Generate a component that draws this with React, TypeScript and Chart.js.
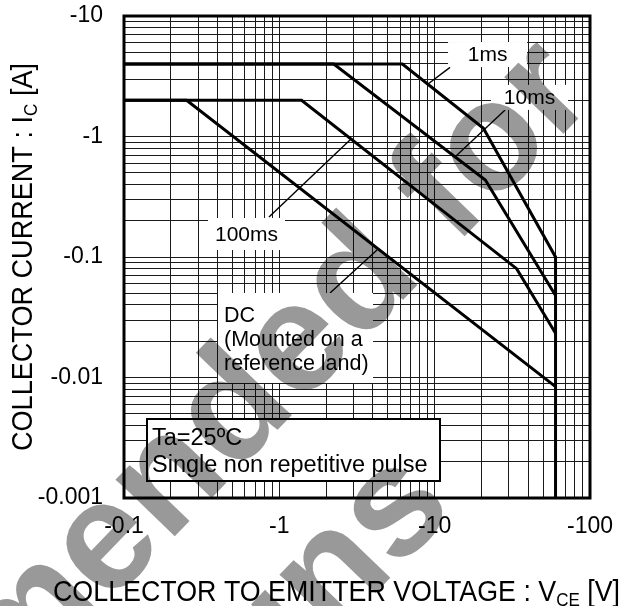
import React, { useEffect, useRef } from 'react';
import { Chart, registerables } from 'chart.js';

Chart.register(...registerables);

// ---- data ----
const voltage1ms = [0.1, 6.2, 20.6, 60, 60];
const current1ms = [4, 4, 1.17, 0.1, 0.001];
const voltage10ms = [0.1, 2.24, 21.2, 60];
const current10ms = [4, 4, 0.435, 0.048];
const voltage100ms = [0.1, 1.39, 33.7, 60];
const current100ms = [2, 2, 0.08, 0.0233];
const voltageDC = [0.1, 0.253, 60];
const currentDC = [2, 2, 0.0084];

const xTickDecades = [0.1, 1, 10, 100];
const yTickDecades = [0.001, 0.01, 0.1, 1, 10];

const curveNames = ['1ms', '10ms', '100ms', 'DC'];

// label anchors in data units (V, A)
const labelText = ['1ms', '10ms', '100ms'];
const labelCenterV = [21.9, 40.8, 0.6145];
const labelCenterI = [4.79, 2.11, 0.1552];
const leaderFromV = [12.56, 28.4, 0.858];
const leaderFromI = [3.75, 1.66, 0.2148];
const leaderToV = [9.06, 13.5, 2.893];
const leaderToI = [2.73, 0.676, 0.953];

const dcLines = ['DC', '(Mounted on a', 'reference land)'];
const dcBoxV = 0.403;
const dcBoxI = 0.0503;
const dcLeaderFrom = [2.12, 0.0503];
const dcLeaderTo = [4.255, 0.1143];

const condLines = ['Ta=25ºC', 'Single non repetitive pulse'];

const xTitle = ['COLLECTOR TO EMITTER VOLTAGE : V', 'CE', ' [V]'];
const yTitle = ['COLLECTOR CURRENT : I', 'C', ' [A]'];
const watermarkLines = ['Not Recommended for', 'New Designs'];

const FAMILY = "'Liberation Sans', Arial, Helvetica, sans-serif";

const toPts = (xs: number[], ys: number[]) => xs.map((x, i) => ({ x, y: ys[i] }));

const isDecade = (v: number, list: number[]) => list.some((d) => Math.abs(Math.log10(v) - Math.log10(d)) < 1e-6);

const keepIntegerSignificand = (s: any) => {
  s.ticks = s.ticks.filter((t: any) => {
    const e = Math.floor(Math.log10(t.value) + 1e-9);
    const m = t.value / Math.pow(10, e);
    return Math.abs(m - Math.round(m)) < 1e-6;
  });
};

function drawRich(ctx: CanvasRenderingContext2D, parts: { text: string; size: number; dy: number }[], x: number, y: number, target: number, rotate: boolean) {
  ctx.save();
  let total = 0;
  const widths: number[] = [];
  for (const p of parts) {
    ctx.font = `${p.size}px ${FAMILY}`;
    const w = ctx.measureText(p.text).width;
    widths.push(w);
    total += w;
  }
  const sx = target / total;
  ctx.translate(x, y);
  if (rotate) ctx.rotate(-Math.PI / 2);
  ctx.scale(sx, 1);
  ctx.fillStyle = '#000';
  ctx.textAlign = 'left';
  ctx.textBaseline = 'alphabetic';
  let cx = 0;
  parts.forEach((p, i) => {
    ctx.font = `${p.size}px ${FAMILY}`;
    ctx.fillText(p.text, cx, p.dy);
    cx += widths[i];
  });
  ctx.restore();
}

const decorPlugin = {
  id: 'decor',
  beforeDraw(chart: any) {
    const ctx = chart.ctx;
    ctx.save();
    ctx.fillStyle = '#fff';
    ctx.fillRect(0, 0, chart.width, chart.height);
    ctx.restore();
  },
  afterDatasetsDraw(chart: any) {
    const ctx: CanvasRenderingContext2D = chart.ctx;
    const xs = chart.scales.x;
    const ys = chart.scales.y;
    const ca = chart.chartArea;
    const px = (v: number) => xs.getPixelForValue(v);
    const py = (v: number) => ys.getPixelForValue(v);
    ctx.save();
    ctx.strokeStyle = '#000';
    ctx.fillStyle = '#000';

    // leaders
    ctx.lineWidth = 1.4;
    for (let i = 0; i < labelText.length; i++) {
      ctx.beginPath();
      ctx.moveTo(px(leaderFromV[i]), py(leaderFromI[i]));
      ctx.lineTo(px(leaderToV[i]), py(leaderToI[i]));
      ctx.stroke();
    }
    ctx.beginPath();
    ctx.moveTo(px(dcLeaderFrom[0]), py(dcLeaderFrom[1]));
    ctx.lineTo(px(dcLeaderTo[0]), py(dcLeaderTo[1]));
    ctx.stroke();

    // curve labels
    const boxW = [79, 77, 77];
    const boxH = [25, 25, 32];
    ctx.font = `21px ${FAMILY}`;
    ctx.textAlign = 'center';
    ctx.textBaseline = 'middle';
    for (let i = 0; i < labelText.length; i++) {
      const cx = px(labelCenterV[i]);
      const cy = py(labelCenterI[i]);
      ctx.fillStyle = '#fff';
      ctx.fillRect(cx - boxW[i] / 2, cy - boxH[i] / 2, boxW[i], boxH[i]);
      ctx.fillStyle = '#000';
      ctx.fillText(labelText[i], cx, cy + 1);
    }

    // DC box
    const dx = px(dcBoxV);
    const dy = py(dcBoxI);
    ctx.fillStyle = '#fff';
    ctx.fillRect(dx, dy, 155, 90);
    ctx.fillStyle = '#000';
    ctx.font = `21.5px ${FAMILY}`;
    ctx.textAlign = 'left';
    ctx.textBaseline = 'alphabetic';
    dcLines.forEach((t, i) => ctx.fillText(t, dx + 6, dy + 28.7 + i * 24.2));

    // conditions box
    const bx = ca.left + 23;
    const by = ca.bottom - 79;
    ctx.fillStyle = '#fff';
    ctx.fillRect(bx, by, 293, 62);
    ctx.lineWidth = 2;
    ctx.strokeRect(bx, by, 293, 62);
    ctx.fillStyle = '#000';
    ctx.font = `23.5px ${FAMILY}`;
    condLines.forEach((t, i) => ctx.fillText(t, bx + 5, by + 25.7 + i * 26.8));

    // frame
    ctx.lineWidth = 3;
    ctx.strokeRect(ca.left, ca.top, ca.right - ca.left, ca.bottom - ca.top);
    ctx.restore();
  },
  afterDraw(chart: any) {
    const ctx: CanvasRenderingContext2D = chart.ctx;
    drawRich(ctx, [
      { text: xTitle[0], size: 30, dy: 0 },
      { text: xTitle[1], size: 19, dy: 5 },
      { text: xTitle[2], size: 30, dy: 0 },
    ], 53, 601, 567, false);
    drawRich(ctx, [
      { text: yTitle[0], size: 30, dy: 0 },
      { text: yTitle[1], size: 19, dy: 5 },
      { text: yTitle[2], size: 30, dy: 0 },
    ], 31.7, 451, 388, true);

    // watermark
    ctx.save();
    ctx.globalCompositeOperation = 'multiply';
    ctx.fillStyle = '#999999';
    ctx.font = `bold 155px ${FAMILY}`;
    ctx.textAlign = 'right';
    ctx.textBaseline = 'alphabetic';
    const ang = (-46 * Math.PI) / 180;
    const anchors = [[598, 98], [457, 509]];
    watermarkLines.forEach((t, i) => {
      ctx.save();
      ctx.translate(anchors[i][0], anchors[i][1]);
      ctx.rotate(ang);
      ctx.fillText(t, 0, 0);
      ctx.restore();
    });
    ctx.restore();
  },
};

export default function App() {
  const ref = useRef<HTMLCanvasElement>(null);
  useEffect(() => {
    const common = {
      showLine: true,
      borderColor: '#000',
      backgroundColor: '#000',
      borderWidth: 3,
      pointRadius: 0,
      pointHoverRadius: 0,
      fill: false,
      tension: 0,
      borderJoinStyle: 'miter' as const,
    };
    const series = [
      toPts(voltage1ms, current1ms),
      toPts(voltage10ms, current10ms),
      toPts(voltage100ms, current100ms),
      toPts(voltageDC, currentDC),
    ];
    const tickFont = { family: FAMILY, size: 23 };
    const chart = new Chart(ref.current as HTMLCanvasElement, {
      type: 'scatter',
      data: {
        datasets: series.map((d, i) => ({ ...common, label: curveNames[i], data: d })),
      },
      options: {
        responsive: false,
        devicePixelRatio: 1,
        animation: false,
        layout: { padding: { left: 0, top: 16, right: 34, bottom: 0 } },
        plugins: { legend: { display: false }, tooltip: { enabled: false } },
        scales: {
          x: {
            type: 'logarithmic',
            position: 'bottom',
            min: 0.1,
            max: 100,
            grid: { color: '#1a1a1a', lineWidth: 1, drawTicks: false },
            border: { display: false },
            afterBuildTicks: keepIntegerSignificand,
            afterFit: (s: any) => {
              s.height = 108;
              s.paddingLeft = 0;
              s.paddingRight = 0;
              s.paddingTop = 0;
              s.paddingBottom = 0;
            },
            ticks: {
              autoSkip: false,
              maxRotation: 0,
              minRotation: 0,
              padding: 14.5,
              color: '#000',
              font: tickFont,
              callback: (v: any) => (isDecade(Number(v), xTickDecades) ? '-' + String(Number(v)) : ''),
            },
          },
          y: {
            type: 'logarithmic',
            position: 'left',
            min: 0.001,
            max: 10,
            grid: { color: '#1a1a1a', lineWidth: 1, drawTicks: false },
            border: { display: false },
            afterBuildTicks: keepIntegerSignificand,
            afterFit: (s: any) => {
              s.width = 124;
              s.paddingLeft = 0;
              s.paddingRight = 0;
              s.paddingTop = 0;
              s.paddingBottom = 0;
            },
            ticks: {
              autoSkip: false,
              padding: 21,
              color: '#000',
              font: tickFont,
              callback: (v: any) => (isDecade(Number(v), yTickDecades) ? '-' + String(Number(v)) : ''),
            },
          },
        },
      } as any,
      plugins: [decorPlugin],
    });
    return () => chart.destroy();
  }, []);
  return (
    <div style={{ position: 'absolute', left: 0, top: 0, width: 624, height: 606 }}>
      <canvas ref={ref} width={624} height={606} style={{ display: 'block', width: 624, height: 606 }} />
    </div>
  );
}
